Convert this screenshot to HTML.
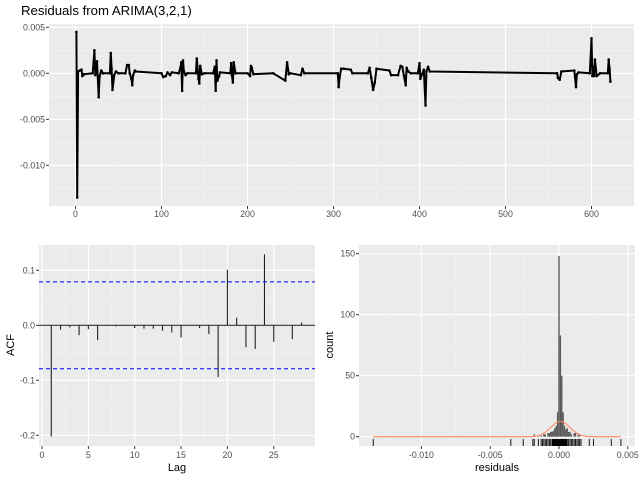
<!DOCTYPE html>
<html><head><meta charset="utf-8"><style>
body{margin:0;background:#fff;}
svg{display:block;font-family:"Liberation Sans",sans-serif;}
</style></head><body>
<svg id="c" width="640" height="480" xmlns="http://www.w3.org/2000/svg">
<text x="21" y="15" font-size="13.2" fill="#000">Residuals from ARIMA(3,2,1)</text>
<g id="top"></g>
<g id="acf"></g>
<g id="hist"></g>
</svg>
<script>
// ---- time series (residuals, units of 0.001) ----
const tsTime=[1,2,3,5,7,8,10,20,22,23,25,27,28,30,32,40,41,42,43,45,47,50,58,60,62,63,65,66,67,69,70,100,102,105,107,110,112,120,122,123,124,125,126,128,130,140,141,143,144,145,147,150,160,162,163,164,165,167,168,180,181,182,183,184,186,200,203,204,205,207,230,244,246,248,250,262,264,266,305,306,307,309,312,320,322,340,342,344,346,348,350,365,367,375,378,380,382,384,385,387,390,398,400,401,403,405,407,408,410,412,560,561,563,565,580,582,583,585,598,600,601,602,603,604,606,610,619,620,621,622];
const tsValue=[4.5,-13.5,0.2,0.3,0.4,-0.3,-0.1,0,2.5,-0.2,1.3,-2.6,-0.3,0.3,0,0,2.2,0.5,-1.8,-0.2,0.2,0,0,0.9,0.9,0,-0.6,-1.3,-0.2,0.3,0.2,0,-0.4,-0.3,0.1,-0.2,0.1,0,0.6,1.2,-1.9,1.4,0.2,-0.2,0,0,1.6,-0.6,-1.1,0.8,-0.1,0,0,0.7,-1.9,1.4,-0.8,-0.3,0.1,0,1.1,-0.3,-1.0,1.2,0,0,-0.3,0.8,0.6,-0.1,0,-0.8,1.2,-0.1,0,-0.2,0.5,0,0,-1.5,-0.5,0.5,0.5,0.4,0,0,0.6,-0.5,-1.8,-1.0,0.5,0.3,-0.2,-0.2,0.8,0.7,-0.3,-1.3,0.6,0.2,0,0,1.1,-0.6,-0.1,0.4,-3.5,0.2,0.7,0.2,0,-0.5,-0.7,0.2,0.3,-1.5,-0.1,0.1,0,3.8,-0.3,0.7,-0.3,1.5,-0.3,0,0,1.5,0.5,-0.9];
const tsXTicks=[0,100,200,300,400,500,600];
const tsYTicks=[0.005,0,-0.005,-0.010];
const tsYLabels=["0.005","0.000","-0.005","-0.010"];
// ---- ACF ----
const acfLags=[1,2,3,4,5,6,7,8,9,10,11,12,13,14,15,16,17,18,19,20,21,22,23,24,25,26,27,28];
const acfValues=[-0.202,-0.008,-0.004,-0.018,-0.007,-0.027,-0.001,-0.002,-0.001,-0.005,-0.006,-0.006,-0.010,-0.013,-0.022,-0.001,-0.005,-0.016,-0.094,0.101,0.014,-0.040,-0.043,0.129,-0.030,0.001,-0.025,0.005];
const acfCI=0.079;
const acfXTicks=[0,5,10,15,20,25];
const acfYTicks=[0.1,0,-0.1,-0.2];
const acfYLabels=["0.1","0.0","-0.1","-0.2"];
// ---- histogram (bin centres in 0.001, counts) ----
const histBins=[-1.8,-1.5,-1.3,-1.1,-1.0,-0.8,-0.7,-0.6,-0.5,-0.4,-0.3,-0.2,-0.1,0.0,0.1,0.2,0.3,0.4,0.5,0.6,0.7,0.8,0.9,1.1,1.2,1.4,1.5];
const histCounts=[2,1,1,2,2,3,3,4,4,5,7,9,20,148,83,50,20,9,6,7,4,4,2,3,3,2,1];
const rugValues=[-13.5,-3.5,-2.6,-1.9,-1.8,-1.5,-1.3,-1.2,-1.1,-1.0,-0.9,-0.8,-0.7,-0.6,-0.5,-0.45,-0.4,-0.35,-0.3,-0.25,-0.2,-0.15,-0.1,-0.05,0,0.05,0.1,0.15,0.2,0.25,0.3,0.35,0.4,0.45,0.5,0.55,0.6,0.7,0.8,0.9,1.0,1.1,1.2,1.3,1.4,1.5,1.6,2.2,2.5,3.8,4.5];
const histXTicks=[-0.010,-0.005,0,0.005];
const histXLabels=["-0.010","-0.005","0.000","0.005"];
const histYTicks=[0,50,100,150];
const normMean=0.1, normSd=0.7, normPeak=12.5;

const NS="http://www.w3.org/2000/svg";
function mk(parent,tag,attrs){const e=document.createElementNS(NS,tag);for(const k in attrs)e.setAttribute(k,attrs[k]);parent.appendChild(e);return e;}
function panel(g,x0,y0,x1,y1,name){
  const r=mk(g,'rect',{x:x0,y:y0,width:x1-x0,height:y1-y0,fill:'#ebebeb'});
  
  
}
function vgrid(g,x,y0,y1,major){mk(g,'line',{x1:x,x2:x,y1:y0,y2:y1,stroke:major?'#fff':'#f5f5f5','stroke-width':major?1.1:0.55});}
function hgrid(g,y,x0,x1,major){mk(g,'line',{x1:x0,x2:x1,y1:y,y2:y,stroke:major?'#fff':'#f5f5f5','stroke-width':major?1.1:0.55});}
function label(g,x,y,txt,anchor,name){const t=mk(g,'text',{x:x,y:y,'font-size':'8.8',fill:'#4d4d4d','text-anchor':anchor});t.textContent=txt;
  
  return t;}

// ===== TOP PANEL =====
(function(){
  const g=document.getElementById('top');
  const X0=49,X1=634,Y0=24,Y1=206;
  const sx=t=>75.5+t*0.86, sy=v=>73.3-v*9200;
  panel(g,X0,Y0,X1,Y1,'top-panel');
  [-0.0075,-0.0025,0.0025,-0.0125].forEach(v=>hgrid(g,sy(v),X0,X1,false));
  [50,150,250,350,450,550].forEach(t=>vgrid(g,sx(t),Y0,Y1,false));
  tsYTicks.forEach(v=>hgrid(g,sy(v),X0,X1,true));
  tsXTicks.forEach(t=>vgrid(g,sx(t),Y0,Y1,true));
  tsYTicks.forEach((v,i)=>{label(g,X0-4,sy(v)+3,tsYLabels[i],'end','y-tick-label');mk(g,'line',{x1:X0-3,x2:X0,y1:sy(v),y2:sy(v),stroke:'#333'});});
  tsXTicks.forEach(t=>{label(g,sx(t),Y1+11,String(t),'middle','x-tick-label');mk(g,'line',{x1:sx(t),x2:sx(t),y1:Y1,y2:Y1+3,stroke:'#333'});});
  let d='';tsTime.forEach((t,i)=>{d+=(i?'L':'M')+sx(t).toFixed(1)+','+sy(tsValue[i]/1000).toFixed(1);});
  const p=mk(g,'path',{d:d,fill:'none',stroke:'#000','stroke-width':2,'stroke-linejoin':'round'});
  
  
  tsTime.forEach((t,i)=>{const c=mk(g,'circle',{cx:sx(t),cy:sy(tsValue[i]/1000),r:1.3,fill:'#000'});
    
    });
})();

// ===== ACF PANEL =====
(function(){
  const g=document.getElementById('acf');
  const X0=39,X1=315,Y0=245,Y1=446;
  const sx=l=>42+l*9.27, sy=v=>325.3-v*550;
  panel(g,X0,Y0,X1,Y1,'acf');
  [-0.15,-0.05,0.05].forEach(v=>hgrid(g,sy(v),X0,X1,false));
  [2.5,7.5,12.5,17.5,22.5,27.5].forEach(l=>vgrid(g,sx(l),Y0,Y1,false));
  acfYTicks.forEach(v=>hgrid(g,sy(v),X0,X1,true));
  acfXTicks.forEach(l=>vgrid(g,sx(l),Y0,Y1,true));
  acfYTicks.forEach((v,i)=>{label(g,X0-4,sy(v)+3,acfYLabels[i],'end','acf-y-tick-label');mk(g,'line',{x1:X0-3,x2:X0,y1:sy(v),y2:sy(v),stroke:'#333'});});
  acfXTicks.forEach(l=>{label(g,sx(l),Y1+12,String(l),'middle','acf-x-tick-label');mk(g,'line',{x1:sx(l),x2:sx(l),y1:Y1,y2:Y1+3,stroke:'#333'});});
  mk(g,'line',{x1:X0,x2:X1,y1:sy(0),y2:sy(0),stroke:'#333','stroke-width':1.2});
  acfLags.forEach((l,i)=>{const s=mk(g,'line',{x1:sx(l),x2:sx(l),y1:sy(0),y2:sy(acfValues[i]),stroke:'#222','stroke-width':1.1});
    
    });
  [acfCI,-acfCI].forEach(v=>{const l=mk(g,'line',{x1:X0,x2:X1,y1:sy(v),y2:sy(v),stroke:'#0000ff','stroke-width':1,'stroke-dasharray':'4,3'});
    
    });
  const t1=mk(g,'text',{x:177,y:471,'font-size':'11',fill:'#000','text-anchor':'middle'});t1.textContent='Lag';
  
  
  const t2=mk(g,'text',{x:0,y:0,'font-size':'11',fill:'#000','text-anchor':'middle',transform:'translate(14,345) rotate(-90)'});t2.textContent='ACF';
  
  
})();

// ===== HISTOGRAM PANEL =====
(function(){
  const g=document.getElementById('hist');
  const X0=359,X1=635,Y0=245,Y1=446;
  const sx=v=>559+v*13760, sy=c=>436.7-c*1.22;
  panel(g,X0,Y0,X1,Y1,'histogram');
  [25,75,125].forEach(c=>hgrid(g,sy(c),X0,X1,false));
  [-0.0125,-0.0075,-0.0025,0.0025].forEach(v=>vgrid(g,sx(v),Y0,Y1,false));
  histYTicks.forEach(c=>hgrid(g,sy(c),X0,X1,true));
  histXTicks.forEach(v=>vgrid(g,sx(v),Y0,Y1,true));
  histYTicks.forEach(c=>{label(g,X0-4,sy(c)+3,String(c),'end','hist-y-tick-label');mk(g,'line',{x1:X0-3,x2:X0,y1:sy(c),y2:sy(c),stroke:'#333'});});
  histXTicks.forEach((v,i)=>{label(g,sx(v),Y1+12,histXLabels[i],'middle','hist-x-tick-label');mk(g,'line',{x1:sx(v),x2:sx(v),y1:Y1,y2:Y1+3,stroke:'#333'});});
  const bw=0.0001*13760;
  histBins.forEach((b,i)=>{const r=mk(g,'rect',{x:sx(b/1000)-bw/2,y:sy(histCounts[i]),width:bw,height:histCounts[i]*1.22,fill:'#595959'});
    
    });
  let d='';const lo=-13.5,hi=4.5;
  for(let k=0;k<=400;k++){const v=lo+(hi-lo)*k/400;const c=normPeak*Math.exp(-0.5*Math.pow((v-normMean)/normSd,2));d+=(k?'L':'M')+sx(v/1000).toFixed(1)+','+sy(c).toFixed(1);}
  const p=mk(g,'path',{d:d,fill:'none',stroke:'#ff8a65','stroke-width':1.1});
  
  
  rugValues.forEach(v=>{const l=mk(g,'line',{x1:sx(v/1000),x2:sx(v/1000),y1:439,y2:446,stroke:'#000','stroke-width':0.9});
    
    });
  const t1=mk(g,'text',{x:497,y:471,'font-size':'11',fill:'#000','text-anchor':'middle'});t1.textContent='residuals';
  
  
  const t2=mk(g,'text',{x:0,y:0,'font-size':'11',fill:'#000','text-anchor':'middle',transform:'translate(333,345) rotate(-90)'});t2.textContent='count';
  
  
})();
</script>
</body></html>
